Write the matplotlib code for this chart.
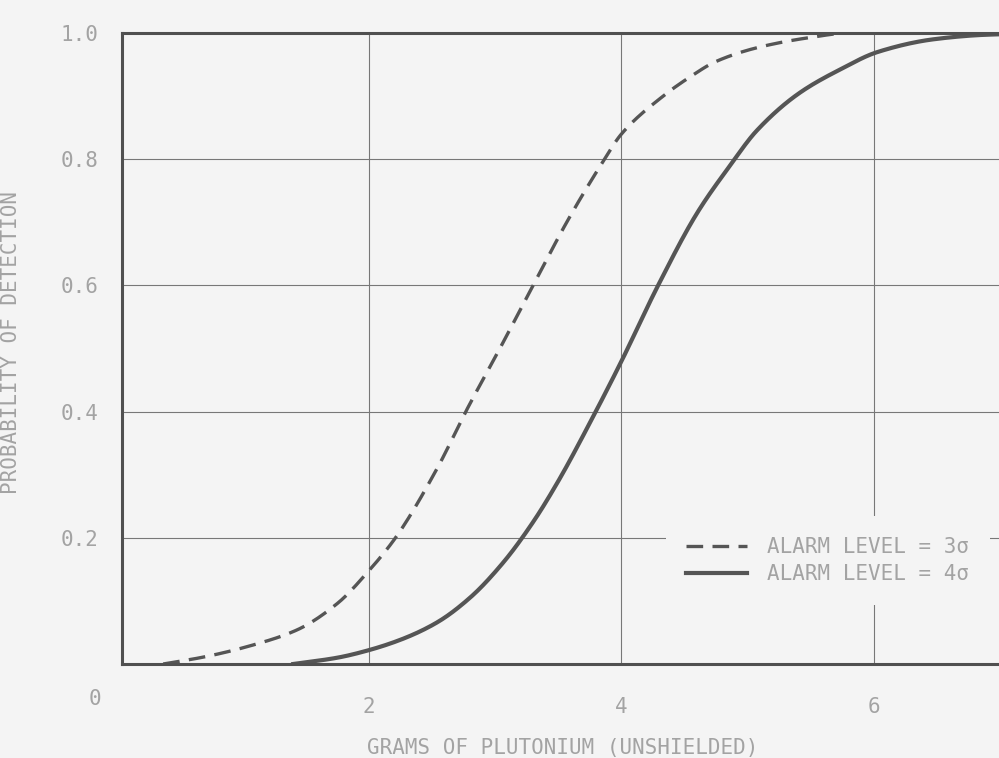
import numpy as np
import matplotlib
matplotlib.use("Agg")
import matplotlib.pyplot as plt

# curve readings (grams, probability)
grams_3s = [0.37, 0.69, 1.08, 1.43, 1.75, 2.0, 2.21, 2.54, 2.78, 3.05, 3.30, 3.58,
            3.85, 4.0, 4.33, 4.54, 4.75, 5.1, 5.5, 5.8, 7.0]
prob_3s = [0.0, 0.011, 0.03, 0.054, 0.096, 0.148, 0.2, 0.31, 0.405, 0.505, 0.6, 0.705,
           0.795, 0.84, 0.9, 0.93, 0.955, 0.978, 0.993, 1.0, 1.0]

grams_4s = [1.4, 1.75, 2.0, 2.27, 2.54, 2.8, 3.06, 3.3, 3.5, 3.77, 4.0, 4.29,
            4.6, 4.86, 5.07, 5.41, 5.73, 6.03, 6.47, 6.86, 7.0]
prob_4s = [0.0, 0.01, 0.022, 0.04, 0.066, 0.105, 0.16, 0.225, 0.29, 0.39, 0.48, 0.6,
           0.715, 0.79, 0.845, 0.905, 0.942, 0.97, 0.99, 0.997, 0.998]

x_ticks = [2, 4, 6]
y_ticks = [0.2, 0.4, 0.6, 0.8, 1.0]
labels = ["ALARM LEVEL = 3σ", "ALARM LEVEL = 4σ"]

bg = "#f4f4f4"
txt = "#a3a3a3"
ink = "#555555"


def smooth(x, y, n=400):
    # monotone cubic (Fritsch-Carlson) just to draw the readings as a smooth pen line
    x = np.asarray(x, float)
    y = np.asarray(y, float)
    h = np.diff(x)
    d = np.diff(y) / h
    m = np.zeros_like(x)
    m[0], m[-1] = d[0], d[-1]
    for i in range(1, len(x) - 1):
        if d[i - 1] * d[i] > 0:
            w1 = 2 * h[i] + h[i - 1]
            w2 = h[i] + 2 * h[i - 1]
            m[i] = (w1 + w2) / (w1 / d[i - 1] + w2 / d[i])
    xs = np.linspace(x[0], x[-1], n)
    k = np.clip(np.searchsorted(x, xs) - 1, 0, len(h) - 1)
    t = (xs - x[k]) / h[k]
    h00 = 2 * t**3 - 3 * t**2 + 1
    h10 = t**3 - 2 * t**2 + t
    h01 = -2 * t**3 + 3 * t**2
    h11 = t**3 - t**2
    ys = h00 * y[k] + h10 * h[k] * m[k] + h01 * y[k + 1] + h11 * h[k] * m[k + 1]
    return xs, ys


plt.rcParams['font.family'] = ['DejaVu Sans Mono']

fig = plt.figure(figsize=(9.99, 7.58), dpi=100, facecolor=bg)
ax = fig.add_axes([122 / 999, 94 / 758, 877 / 999, 631 / 758])
ax.set_facecolor(bg)

xs, ys = smooth(grams_3s, prob_3s)
ax.plot(xs, ys, color=ink, lw=2.4, dashes=(5.0, 2.8), label=labels[0])
xs, ys = smooth(grams_4s, prob_4s)
ax.plot(xs, ys, color=ink, lw=3.0, label=labels[1])

ax.set_xlim(0.044, 6.99)
ax.set_ylim(0, 1.0)
ax.set_xticks(x_ticks)
ax.set_yticks(y_ticks)
ax.set_xticklabels([str(v) for v in x_ticks])
ax.set_yticklabels(["%.1f" % v for v in y_ticks])
ax.tick_params(length=0, labelsize=15, labelcolor=txt)
ax.tick_params(axis='x', pad=24)
ax.tick_params(axis='y', pad=17)
ax.grid(True, color="#777777", lw=0.8)

for s in ["left", "bottom", "top"]:
    ax.spines[s].set_color("#505050")
    ax.spines[s].set_linewidth(2.2)
ax.spines["right"].set_visible(False)

ax.text(-0.031, -0.055, "0", transform=ax.transAxes, fontsize=15, color=txt,
        ha="center", va="center")

ax.set_xlabel("GRAMS OF PLUTONIUM (UNSHIELDED)", fontsize=15, color=txt)
ax.xaxis.set_label_coords((563 - 122) / 877, -(738 - 664) / 631)
ax.set_ylabel("PROBABILITY OF DETECTION", fontsize=15, color=txt)
ax.yaxis.set_label_coords(-(122 - 21) / 877, (664 - 343) / 631)

leg = ax.legend(loc="upper left", bbox_to_anchor=(0.608, 0.251), fontsize=15,
                frameon=True, facecolor=bg, edgecolor="none", framealpha=1,
                fancybox=False, borderpad=1.0, handlelength=2.9,
                handletextpad=0.95, labelspacing=0.35)
for t in leg.get_texts():
    t.set_color(txt)

fig.savefig("out.png", dpi=100, facecolor=bg)
